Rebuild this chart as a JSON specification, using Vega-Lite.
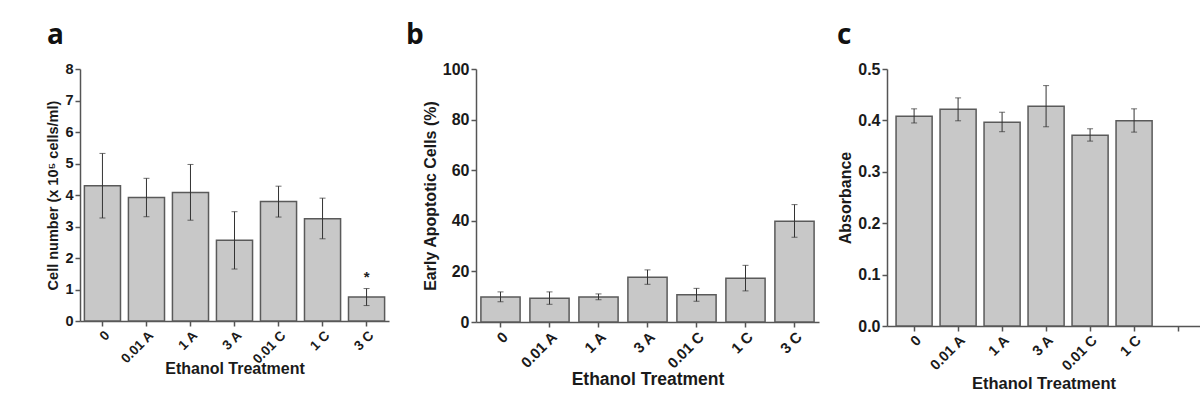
{
  "$schema": "https://vega.github.io/schema/vega-lite/v6.json",
  "background": "white",
  "padding": {"left": 45, "top": 22, "right": 0, "bottom": 5},
  "config": {
    "view": {"stroke": null},
    "axis": {
      "labelFont": "Liberation Sans", "titleFont": "Liberation Sans",
      "labelFontWeight": "bold", "titleFontWeight": "bold",
      "labelColor": "#1a1a1a", "titleColor": "#1a1a1a",
      "domainColor": "#555555", "tickColor": "#555555",
      "domainWidth": 1.5, "tickWidth": 1.5, "tickSize": 5,
      "grid": false, "labelPadding": 2
    },
    "title": {"font": "Open Sans", "fontWeight": "bold", "fontSize": 28, "color": "#111111", "anchor": "start", "frame": "group", "baseline": "alphabetic", "offset": 11}
  },
  "datasets": {
    "a": [
      {"t": "0", "v": 4.29, "lo": 3.27, "hi": 5.32, "sig": ""},
      {"t": "0.01 A", "v": 3.92, "lo": 3.31, "hi": 4.53, "sig": ""},
      {"t": "1 A", "v": 4.08, "lo": 3.2, "hi": 4.97, "sig": ""},
      {"t": "3 A", "v": 2.56, "lo": 1.65, "hi": 3.47, "sig": ""},
      {"t": "0.01 C", "v": 3.79, "lo": 3.3, "hi": 4.28, "sig": ""},
      {"t": "1 C", "v": 3.25, "lo": 2.61, "hi": 3.9, "sig": ""},
      {"t": "3 C", "v": 0.76, "lo": 0.49, "hi": 1.03, "sig": "*"}
    ],
    "b": [
      {"t": "0", "v": 9.9, "lo": 8.0, "hi": 11.9},
      {"t": "0.01 A", "v": 9.4, "lo": 7.0, "hi": 11.9},
      {"t": "1 A", "v": 9.9, "lo": 8.8, "hi": 11.1},
      {"t": "3 A", "v": 17.7, "lo": 14.9, "hi": 20.6},
      {"t": "0.01 C", "v": 10.8, "lo": 8.2, "hi": 13.3},
      {"t": "1 C", "v": 17.3, "lo": 12.3, "hi": 22.4},
      {"t": "3 C", "v": 39.8, "lo": 33.5, "hi": 46.4}
    ],
    "c": [
      {"t": "0", "v": 0.408, "lo": 0.395, "hi": 0.4225},
      {"t": "0.01 A", "v": 0.4217, "lo": 0.3992, "hi": 0.4438},
      {"t": "1 A", "v": 0.3965, "lo": 0.378, "hi": 0.4159},
      {"t": "3 A", "v": 0.4276, "lo": 0.3876, "hi": 0.4677},
      {"t": "0.01 C", "v": 0.3713, "lo": 0.3597, "hi": 0.3837},
      {"t": "1 C", "v": 0.3992, "lo": 0.3772, "hi": 0.4225}
    ],
    "blank": [{"k": ""}]
  },
  "bounds": "flush",
  "spacing": 20,
  "hconcat": [
    {
      "width": 309, "height": 252,
      "title": {"text": "a", "dx": -33},
      "data": {"name": "a"},
      "encoding": {
        "x": {"field": "t", "type": "nominal", "sort": null,
          "scale": {"paddingInner": 0.18, "paddingOuter": 0.1},
          "axis": {"title": "Ethanol Treatment", "labelAngle": -45, "labelFontSize": 13.5, "titleFontSize": 16, "titlePadding": -5}}
      },
      "layer": [
        {"mark": {"type": "bar", "fill": "#c8c8c8", "stroke": "#5a5a5a", "strokeWidth": 1.5},
          "encoding": {"y": {"field": "v", "type": "quantitative", "scale": {"domain": [0, 8]},
            "axis": {"title": "Cell number (x 10⁵ cells/ml)", "values": [0,1,2,3,4,5,6,7,8], "labelFontSize": 14.5, "titleFontSize": 14.5}}}},
        {"mark": {"type": "errorbar", "color": "#333333", "ticks": {"size": 6}, "rule": {"strokeWidth": 1}},
          "encoding": {"y": {"field": "lo", "type": "quantitative", "scale": {"domain": [0, 8]},
            "axis": {"title": "Cell number (x 10⁵ cells/ml)", "values": [0,1,2,3,4,5,6,7,8], "labelFontSize": 14.5, "titleFontSize": 14.5}}, "y2": {"field": "hi"}}},
        {"mark": {"type": "text", "font": "Liberation Sans", "fontWeight": "bold", "fontSize": 15, "baseline": "bottom", "dy": -4, "color": "#222222"},
          "encoding": {"y": {"field": "hi", "type": "quantitative", "scale": {"domain": [0, 8]},
            "axis": {"title": "Cell number (x 10⁵ cells/ml)", "values": [0,1,2,3,4,5,6,7,8], "labelFontSize": 14.5, "titleFontSize": 14.5}}, "text": {"field": "sig"}}}
      ]
    },
    {
      "width": 47, "height": 10,
      "data": {"name": "blank"},
      "mark": {"type": "text"},
      "encoding": {"text": {"field": "k"}}
    },
    {
      "width": 343, "height": 253,
      "title": {"text": "b", "dx": -70},
      "data": {"name": "b"},
      "encoding": {
        "x": {"field": "t", "type": "nominal", "sort": null,
          "scale": {"paddingInner": 0.2, "paddingOuter": 0.1},
          "axis": {"title": "Ethanol Treatment", "labelAngle": -45, "labelFontSize": 15, "titleFontSize": 17.5, "titlePadding": 0}}
      },
      "layer": [
        {"mark": {"type": "bar", "fill": "#c8c8c8", "stroke": "#5a5a5a", "strokeWidth": 1.5},
          "encoding": {"y": {"field": "v", "type": "quantitative", "scale": {"domain": [0, 100]},
            "axis": {"title": "Early Apoptotic Cells (%)", "values": [0,20,40,60,80,100], "labelFontSize": 16, "titleFontSize": 16}}}},
        {"mark": {"type": "errorbar", "color": "#333333", "ticks": {"size": 6}, "rule": {"strokeWidth": 1}},
          "encoding": {"y": {"field": "lo", "type": "quantitative", "scale": {"domain": [0, 100]},
            "axis": {"title": "Early Apoptotic Cells (%)", "values": [0,20,40,60,80,100], "labelFontSize": 16, "titleFontSize": 16}}, "y2": {"field": "hi"}}}
      ]
    },
    {
      "width": 28, "height": 10,
      "data": {"name": "blank"},
      "mark": {"type": "text"},
      "encoding": {"text": {"field": "k"}}
    },
    {
      "width": 313, "height": 257,
      "title": {"text": "c", "dx": -50},
      "data": {"name": "c"},
      "encoding": {
        "x": {"field": "t", "type": "nominal",
          "scale": {"domain": ["0", "0.01 A", "1 A", "3 A", "0.01 C", "1 C", "3 C"], "paddingInner": 0.18, "paddingOuter": 0.147, "align": 0.7},
          "axis": {"title": "Ethanol Treatment", "labelAngle": -45, "labelFontSize": 14.5, "titleFontSize": 16.5, "titlePadding": 3,
            "labelExpr": "datum.value == '3 C' ? '' : datum.label"}}
      },
      "layer": [
        {"mark": {"type": "bar", "fill": "#c8c8c8", "stroke": "#5a5a5a", "strokeWidth": 1.5},
          "encoding": {"y": {"field": "v", "type": "quantitative", "scale": {"domain": [0, 0.5]},
            "axis": {"title": "Absorbance", "values": [0,0.1,0.2,0.3,0.4,0.5], "format": ".1f", "labelFontSize": 16, "titleFontSize": 16}}}},
        {"mark": {"type": "errorbar", "color": "#333333", "ticks": {"size": 6}, "rule": {"strokeWidth": 1}},
          "encoding": {"y": {"field": "lo", "type": "quantitative", "scale": {"domain": [0, 0.5]},
            "axis": {"title": "Absorbance", "values": [0,0.1,0.2,0.3,0.4,0.5], "format": ".1f", "labelFontSize": 16, "titleFontSize": 16}}, "y2": {"field": "hi"}}}
      ]
    }
  ]
}
